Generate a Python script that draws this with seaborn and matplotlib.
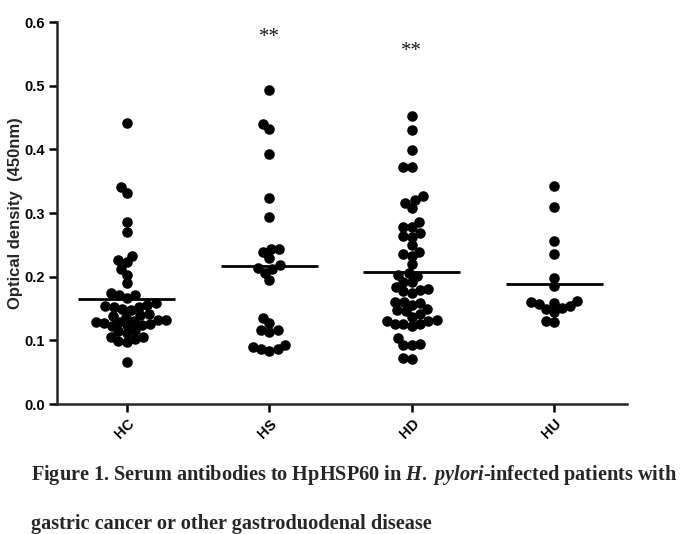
import numpy as np
import pandas as pd
import matplotlib
matplotlib.use("Agg")
import matplotlib.pyplot as plt
from matplotlib.collections import PathCollection
import seaborn as sns

categories = ["HC", "HS", "HD", "HU"]

hc_values = [0.442, 0.341, 0.332, 0.286, 0.270, 0.233, 0.226, 0.223, 0.212, 0.203,
             0.190, 0.174, 0.171, 0.171, 0.166, 0.159, 0.155, 0.153, 0.150, 0.148,
             0.153, 0.154, 0.142, 0.140, 0.137, 0.138, 0.129, 0.128, 0.131, 0.132,
             0.132, 0.129, 0.124, 0.124, 0.122, 0.126, 0.116, 0.114, 0.111, 0.105,
             0.099, 0.098, 0.102, 0.105, 0.066]
hs_values = [0.493, 0.440, 0.432, 0.392, 0.324, 0.294, 0.243, 0.244, 0.238, 0.230,
             0.219, 0.212, 0.214, 0.206, 0.195, 0.135, 0.127, 0.117, 0.113, 0.117,
             0.092, 0.087, 0.083, 0.086, 0.090]
hd_values = [0.453, 0.431, 0.399, 0.373, 0.373, 0.326, 0.315, 0.320, 0.308, 0.286,
             0.278, 0.278, 0.264, 0.263, 0.268, 0.250, 0.233, 0.239, 0.235, 0.220,
             0.206, 0.201, 0.202, 0.191, 0.184, 0.192, 0.181, 0.174, 0.179, 0.177,
             0.158, 0.161, 0.161, 0.156, 0.149, 0.146, 0.142, 0.147, 0.137, 0.132,
             0.130, 0.125, 0.123, 0.125, 0.125, 0.130, 0.103, 0.093, 0.092, 0.095,
             0.071, 0.073]
hu_values = [0.343, 0.310, 0.256, 0.235, 0.198, 0.185, 0.161, 0.157, 0.151, 0.145,
             0.149, 0.154, 0.158, 0.162, 0.129, 0.131]

line_values = [0.165, 0.217, 0.207, 0.189]
sig_labels = ["", "**", "**", ""]
sig_heights = [None, 0.576, 0.553, None]

y_ticks = [0.0, 0.1, 0.2, 0.3, 0.4, 0.5, 0.6]
y_label = "Optical density  (450nm)"
caption_1 = r"Figure 1. Serum antibodies to HpHSP60 in $\mathit{H.}$ $\mathit{pylori}$-infected patients with"
caption_2 = "gastric cancer or other gastroduodenal disease"

groups = []
vals = []
for cat, arr in zip(categories, [hc_values, hs_values, hd_values, hu_values]):
    groups += [cat] * len(arr)
    vals += arr
df = pd.DataFrame({"group": groups, "od": vals})

sns.set_theme(style="ticks")
plt.rcParams["font.family"] = ["Liberation Sans", "DejaVu Sans"]
plt.rcParams["mathtext.fontset"] = "custom"
plt.rcParams["mathtext.it"] = "Liberation Serif:italic:bold"
plt.rcParams["mathtext.rm"] = "Liberation Serif:bold"
plt.rcParams["mathtext.bf"] = "Liberation Serif:bold"

fig = plt.figure(figsize=(6.83, 5.34), dpi=100)
ax = fig.add_axes([0.0835, 0.2434, 0.8345, 0.7154])

sns.swarmplot(data=df, x="group", y="od", order=categories, color="black",
              size=5.9, ax=ax, linewidth=0)

for i, v in enumerate(line_values):
    ax.hlines(v, i - 0.34, i + 0.34, color="black", linewidth=2, zorder=5)

for i, (lab, h) in enumerate(zip(sig_labels, sig_heights)):
    if lab:
        ax.text(i, h, lab, ha="center", va="center", fontsize=15,
                family=["Liberation Serif"], color="#1a1a1a")

ax.set_xlim(-0.49, 3.51)
ax.set_ylim(0, 0.6)
ax.set_yticks(y_ticks)
ax.set_yticklabels([f"{t:.1f}" for t in y_ticks], fontsize=10.5, fontweight="bold")
ax.set_xticks(range(len(categories)))
ax.set_xticklabels(categories, rotation=45, ha="right", rotation_mode="anchor",
                   fontsize=10.5, fontweight="bold")
ax.set_xlabel("")
ax.set_ylabel(y_label, fontsize=12, fontweight="bold")
ax.yaxis.set_label_coords(-0.060, 0.5)
sns.despine(ax=ax)
for s in ["left", "bottom"]:
    ax.spines[s].set_linewidth(1.8)
ax.tick_params(axis="both", width=1.8, length=5.5, direction="out", colors="black")

fig.text(0.046, 0.110, caption_1, fontsize=14.6, fontweight="bold",
         family=["Liberation Serif"], ha="left", va="center")
fig.text(0.046, 0.0, caption_2, fontsize=14.6, fontweight="bold",
         family=["Liberation Serif"], ha="left", va="bottom")

# fix the swarm layout computed at the smaller size, then enlarge the dots
fig.canvas.draw()
for coll in ax.collections:
    if isinstance(coll, PathCollection):
        if "draw" in coll.__dict__:
            del coll.draw
        coll.set_sizes([7.6 ** 2])

fig.savefig("out.png", dpi=100)
